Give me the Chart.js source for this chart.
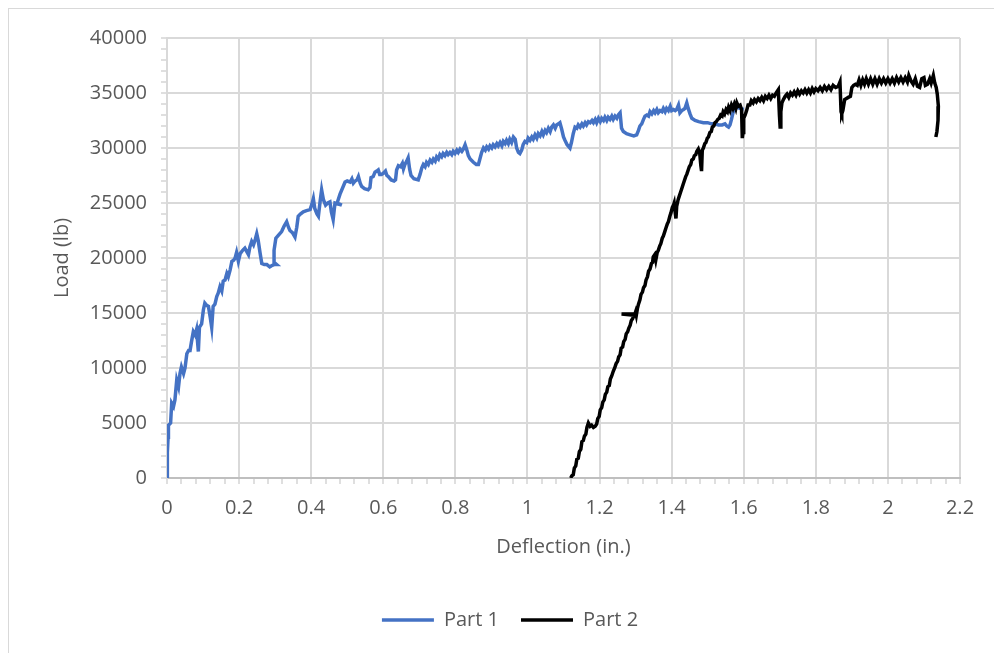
<!DOCTYPE html>
<html>
<head>
<meta charset="utf-8">
<script src="https://cdn.jsdelivr.net/npm/chart.js@4"></script>
<style>
  body { margin: 0; background: #fff; overflow: hidden; }
  #frame { position: absolute; left: 8px; top: 8px; width: 1100px; height: 800px; border: 1px solid #d9d9d9; }
  #myChart { position: absolute; left: 0; top: 0; }
</style>
</head>
<body>
<div id="frame"></div>
<canvas id="myChart" width="994" height="653"></canvas>
<script>
// Part 1: Deflection (in.) / Load (lb)
const part1X = [0, 0.002, 0.0, 0.003, 0.004, 0.01, 0.013, 0.018, 0.022, 0.027, 0.032, 0.036, 0.04, 0.046, 0.05, 0.055, 0.06, 0.064, 0.068, 0.073,
  0.078, 0.082, 0.087, 0.09, 0.096, 0.101, 0.105, 0.11, 0.115, 0.12, 0.124, 0.128, 0.133, 0.138, 0.142, 0.147, 0.152, 0.156, 0.161, 0.166,
  0.17, 0.175, 0.18, 0.185, 0.189, 0.193, 0.198, 0.203, 0.21, 0.216, 0.221, 0.226, 0.23, 0.235, 0.24, 0.245, 0.249, 0.253, 0.258, 0.263,
  0.27, 0.277, 0.285, 0.29, 0.297, 0.304, 0.297, 0.297, 0.302, 0.31, 0.318, 0.325, 0.332, 0.337, 0.341, 0.348, 0.355, 0.36, 0.364, 0.37,
  0.378, 0.387, 0.397, 0.402, 0.406, 0.41, 0.416, 0.42, 0.425, 0.429, 0.434, 0.44, 0.446, 0.452, 0.456, 0.461, 0.466, 0.475, 0.485, 0.472,
  0.48, 0.494, 0.5, 0.508, 0.513, 0.517, 0.522, 0.527, 0.531, 0.536, 0.54, 0.548, 0.558, 0.563, 0.566, 0.572, 0.577, 0.582, 0.586, 0.59,
  0.595, 0.6, 0.606, 0.61, 0.614, 0.622, 0.63, 0.634, 0.637, 0.642, 0.648, 0.653, 0.656, 0.66, 0.665, 0.669, 0.673, 0.677, 0.685, 0.697,
  0.702, 0.707, 0.711, 0.716, 0.72, 0.725, 0.73, 0.735, 0.739, 0.744, 0.748, 0.753, 0.757, 0.762, 0.766, 0.771, 0.776, 0.78, 0.785, 0.79,
  0.794, 0.799, 0.804, 0.808, 0.813, 0.818, 0.822, 0.827, 0.832, 0.836, 0.841, 0.85, 0.858, 0.864, 0.868, 0.873, 0.878, 0.883, 0.887, 0.892,
  0.896, 0.901, 0.905, 0.91, 0.915, 0.919, 0.924, 0.929, 0.933, 0.938, 0.942, 0.947, 0.951, 0.956, 0.961, 0.966, 0.97, 0.975, 0.979, 0.984,
  0.988, 0.993, 0.998, 1.002, 1.007, 1.012, 1.016, 1.021, 1.026, 1.03, 1.035, 1.04, 1.044, 1.049, 1.053, 1.058, 1.063, 1.067, 1.072, 1.077,
  1.081, 1.086, 1.09, 1.095, 1.1, 1.104, 1.11, 1.118, 1.122, 1.127, 1.132, 1.137, 1.141, 1.146, 1.151, 1.155, 1.16, 1.164, 1.169, 1.174,
  1.179, 1.183, 1.188, 1.192, 1.197, 1.202, 1.206, 1.211, 1.215, 1.22, 1.224, 1.229, 1.234, 1.238, 1.243, 1.248, 1.252, 1.257, 1.261, 1.266,
  1.275, 1.285, 1.295, 1.303, 1.308, 1.312, 1.317, 1.322, 1.326, 1.331, 1.336, 1.34, 1.345, 1.35, 1.354, 1.359, 1.363, 1.368, 1.373, 1.377,
  1.382, 1.386, 1.391, 1.396, 1.4, 1.405, 1.41, 1.414, 1.419, 1.423, 1.428, 1.433, 1.437, 1.442, 1.446, 1.451, 1.456, 1.465, 1.475, 1.488,
  1.5, 1.51, 1.52, 1.53, 1.54, 1.548, 1.553, 1.558, 1.562, 1.566, 1.571, 1.576, 1.58, 1.59, 1.6];
const part1Y = [0, 1600, 2300, 3700, 4800, 5000, 6800, 6500, 7100, 8900, 8300, 9500, 10100, 9500, 10000, 11300, 11600, 11600, 12400, 13300,
  13000, 13500, 11500, 13700, 14000, 15300, 15900, 15700, 15600, 14600, 13700, 15600, 15800, 16500, 16800, 17400, 17000, 17900, 18000, 18600,
  18300, 18900, 19700, 19800, 20000, 20500, 19700, 20400, 20700, 20900, 20600, 20300, 21000, 21500, 21200, 21700, 22200, 21600, 20500, 19500,
  19400, 19400, 19200, 19300, 19400, 19400, 19600, 20700, 21800, 22100, 22400, 22900, 23300, 22800, 22500, 22300, 21900, 22800, 23800, 24000,
  24200, 24300, 24400, 24900, 25400, 24500, 24000, 23800, 25200, 26200, 25300, 24800, 25000, 25100, 24200, 23500, 25000, 24900, 24800, 25000,
  25800, 26900, 27000, 26900, 27200, 26800, 27000, 27100, 27400, 26800, 26500, 26300, 26200, 26400, 27300, 27400, 27800, 27900, 28000, 27600,
  27600, 27700, 27900, 27500, 27400, 27100, 27000, 27100, 28000, 28400, 28300, 28600, 28100, 28500, 28800, 29100, 28100, 27500, 27200, 27100,
  27600, 28200, 28500, 28300, 28700, 28500, 28900, 28700, 29000, 28800, 29200, 29000, 29400, 29200, 29500, 29300, 29600, 29400, 29600, 29400,
  29700, 29500, 29800, 29600, 29900, 29700, 29900, 30300, 29800, 29300, 29000, 28700, 28500, 28500, 29000, 29600, 30000, 29800, 30100, 29900,
  30200, 30000, 30300, 30100, 30400, 30200, 30500, 30200, 30600, 30400, 30700, 30400, 30800, 30500, 31000, 30800, 30000, 29600, 29500, 29800,
  30300, 30600, 30500, 30900, 30700, 31000, 30800, 31200, 30900, 31300, 31100, 31500, 31200, 31600, 31400, 31800, 31500, 31900, 32100, 31800,
  32100, 32200, 32300, 31700, 31000, 30700, 30300, 30000, 30500, 31300, 31900, 31800, 32100, 31900, 32200, 32000, 32300, 32100, 32400, 32300,
  32500, 32300, 32600, 32300, 32700, 32400, 32700, 32500, 32800, 32500, 32800, 32600, 32900, 32600, 32900, 32700, 33000, 33200, 31800, 31500,
  31300, 31200, 31100, 31200, 31600, 32000, 32200, 32600, 32900, 33000, 32900, 33300, 33100, 33400, 33200, 33500, 33200, 33400, 33300, 33600,
  33300, 33600, 33400, 33800, 33400, 33500, 33400, 33500, 33900, 33200, 33400, 33500, 33600, 34100, 33600, 33100, 32700, 32500, 32400, 32300,
  32300, 32200, 32200, 32100, 32100, 32200, 32000, 31900, 32100, 32600, 33300, 33500, 33700, 33600, 33500];

// Part 2
const part2X = [1.12, 1.123, 1.127, 1.13, 1.134, 1.137, 1.141, 1.144, 1.148, 1.151, 1.155, 1.158, 1.162, 1.165, 1.169, 1.174, 1.178, 1.183, 1.188, 1.192,
  1.195, 1.199, 1.202, 1.206, 1.209, 1.213, 1.216, 1.22, 1.223, 1.227, 1.23, 1.234, 1.238, 1.242, 1.246, 1.25, 1.253, 1.257, 1.26, 1.264,
  1.267, 1.271, 1.274, 1.278, 1.281, 1.285, 1.288, 1.292, 1.296, 1.261, 1.298, 1.3, 1.302, 1.305, 1.308, 1.312, 1.315, 1.319, 1.322, 1.326,
  1.329, 1.333, 1.336, 1.34, 1.344, 1.347, 1.349, 1.353, 1.356, 1.36, 1.363, 1.367, 1.37, 1.374, 1.377, 1.381, 1.384, 1.388, 1.391, 1.395,
  1.398, 1.402, 1.405, 1.407, 1.41, 1.412, 1.414, 1.418, 1.421, 1.425, 1.428, 1.432, 1.435, 1.439, 1.442, 1.446, 1.449, 1.453, 1.456, 1.46,
  1.463, 1.467, 1.47, 1.474, 1.478, 1.481, 1.483, 1.485, 1.488, 1.492, 1.495, 1.499, 1.502, 1.506, 1.51, 1.513, 1.517, 1.52, 1.524, 1.528,
  1.532, 1.536, 1.54, 1.543, 1.547, 1.551, 1.555, 1.558, 1.562, 1.566, 1.57, 1.574, 1.578, 1.581, 1.585, 1.59, 1.594, 1.596, 1.598, 1.6,
  1.604, 1.608, 1.612, 1.617, 1.621, 1.626, 1.63, 1.635, 1.64, 1.645, 1.65, 1.655, 1.66, 1.665, 1.67, 1.675, 1.68, 1.685, 1.69, 1.696,
  1.699, 1.701, 1.703, 1.706, 1.71, 1.715, 1.72, 1.725, 1.73, 1.735, 1.74, 1.745, 1.75, 1.755, 1.76, 1.765, 1.77, 1.775, 1.78, 1.785,
  1.79, 1.795, 1.8, 1.806, 1.812, 1.818, 1.824, 1.83, 1.836, 1.842, 1.848, 1.855, 1.862, 1.867, 1.87, 1.872, 1.875, 1.88, 1.885, 1.89,
  1.896, 1.9, 1.905, 1.91, 1.915, 1.92, 1.925, 1.93, 1.935, 1.94, 1.946, 1.952, 1.958, 1.964, 1.97, 1.976, 1.982, 1.988, 1.994, 2.0,
  2.006, 2.012, 2.018, 2.024, 2.03, 2.036, 2.042, 2.048, 2.054, 2.058, 2.064, 2.07, 2.076, 2.082, 2.088, 2.094, 2.1, 2.104, 2.11, 2.116,
  2.12, 2.126, 2.13, 2.134, 2.137, 2.14, 2.139, 2.136, 2.133];
const part2Y = [0, 200, 300, 900, 1100, 1700, 1800, 2400, 2600, 3300, 3400, 3800, 4000, 4600, 5000, 4700, 4800, 4600, 4700, 4900,
  5400, 5600, 6200, 6400, 6900, 7100, 7600, 7800, 8300, 8400, 9000, 9300, 9700, 10000, 10400, 10600, 11000, 11200, 11800, 11900,
  12400, 12600, 13100, 13300, 13600, 13900, 14300, 14500, 14800, 14900, 14900, 15100, 14800, 15400, 15800, 16200, 16700, 16900, 17300, 17500,
  18000, 18300, 18800, 19000, 19500, 19600, 20100, 20300, 19800, 20500, 20700, 21100, 21300, 21800, 22000, 22400, 22700, 23100, 23300, 23800,
  24100, 24600, 24800, 25000, 24100, 23600, 24700, 25300, 25600, 26000, 26300, 26700, 27000, 27400, 27600, 28000, 28300, 28500, 28900, 29000,
  29300, 29400, 29700, 29900, 29500, 28400, 27900, 29800, 30000, 30400, 30500, 30900, 31000, 31400, 31500, 31900, 32000, 32300, 32400, 32600,
  32700, 33000, 32900, 33300, 33100, 33500, 33300, 33700, 33400, 33900, 33600, 34000, 33600, 34100, 33800, 33900, 33500, 30900, 31400, 32700,
  33000, 33400, 33900, 33900, 34300, 34100, 34400, 34200, 34500, 34300, 34600, 34300, 34700, 34500, 34800, 34500, 34800, 34700, 35000, 35300,
  33000, 31900, 33300, 34100, 34400, 34700, 34900, 34600, 35000, 34800, 35100, 34800, 35200, 34900, 35200, 35000, 35300, 35000, 35300, 35000,
  35400, 35100, 35400, 35200, 35500, 35200, 35600, 35300, 35600, 35300, 35700, 35500, 35600, 36000, 33300, 33100, 33400, 34400, 34500, 34600,
  34700, 35500, 35700, 35800, 35700, 36200, 35700, 36200, 35800, 36300, 35800, 36300, 35800, 36300, 35800, 36300, 35900, 36300, 35900, 36300,
  35900, 36300, 35900, 36400, 36000, 36400, 36000, 36400, 36000, 36600, 36100, 35800, 36300, 35600, 35500, 36300, 36400, 35700, 35800, 36300,
  35900, 36600, 35900, 35500, 34900, 33800, 32500, 31500, 31000];

const xMin = 0, xMax = 2.2, xMajor = 0.2, xMinor = 0.04;
const yMin = 0, yMax = 40000, yMajor = 5000, yMinor = 1000;

const textColor = '#595959';
const fontFamily = '"Open Sans", "Liberation Sans", sans-serif';
const fontSize = 20;

function isMajor(v, step) {
    const r = v / step;
    return Math.abs(r - Math.round(r)) < 1e-6;
}

function toPoints(xs, ys) {
    return xs.map((x, i) => ({ x: x, y: ys[i] }));
}

const ctx = document.getElementById('myChart').getContext('2d');
const myChart = new Chart(ctx, {
    type: 'scatter',
    data: {
        datasets: [
            {
                label: 'Part 1',
                data: toPoints(part1X, part1Y),
                borderColor: '#4472c4',
                backgroundColor: '#4472c4',
                borderWidth: 3.5,
                showLine: true,
                pointRadius: 0,
                tension: 0,
                order: 1
            },
            {
                label: 'Part 2',
                data: toPoints(part2X, part2Y),
                borderColor: '#000000',
                backgroundColor: '#000000',
                borderWidth: 3.5,
                showLine: true,
                pointRadius: 0,
                tension: 0,
                order: 0
            }
        ]
    },
    options: {
        responsive: false,
        animation: false,
        devicePixelRatio: 1,
        layout: { padding: { left: 60, top: 38, right: 34, bottom: 13 } },
        scales: {
            x: {
                type: 'linear',
                position: 'bottom',
                min: xMin,
                max: xMax,
                afterFit: s => { s.height = 110; },
                ticks: {
                    stepSize: xMinor,
                    autoSkip: false,
                    maxRotation: 0,
                    minRotation: 0,
                    padding: 12,
                    color: textColor,
                    font: { family: fontFamily, size: fontSize },
                    callback: v => isMajor(v, xMajor) ? String(+v.toFixed(1)) : ''
                },
                grid: {
                    color: c => isMajor(c.tick.value, xMajor) ? '#d9d9d9' : 'rgba(0,0,0,0)',
                    lineWidth: 2,
                    tickColor: '#bfbfbf',
                    tickLength: 6,
                    tickWidth: 1
                },
                border: { color: '#bfbfbf', width: 2 },
                title: {
                    display: true,
                    text: 'Deflection (in.)',
                    color: textColor,
                    font: { family: fontFamily, size: fontSize },
                    padding: { top: 0, bottom: 29 }
                }
            },
            y: {
                min: yMin,
                max: yMax,
                afterFit: s => { s.width = 107; },
                ticks: {
                    stepSize: yMinor,
                    autoSkip: false,
                    padding: 14,
                    color: textColor,
                    font: { family: fontFamily, size: fontSize },
                    callback: v => isMajor(v, yMajor) ? String(v) : ''
                },
                grid: {
                    color: c => isMajor(c.tick.value, yMajor) ? '#d9d9d9' : 'rgba(0,0,0,0)',
                    lineWidth: 2,
                    tickColor: '#bfbfbf',
                    tickLength: 6,
                    tickWidth: 1
                },
                border: { color: '#d9d9d9', width: 2 },
                title: {
                    display: true,
                    text: 'Load (lb)',
                    color: textColor,
                    font: { family: fontFamily, size: fontSize },
                    padding: { top: -10, bottom: 0 }
                }
            }
        },
        plugins: {
            tooltip: { enabled: false },
            legend: {
                display: true,
                position: 'bottom',
                labels: {
                    usePointStyle: true,
                    pointStyle: 'line',
                    pointStyleWidth: 52,
                    padding: 22,
                    color: textColor,
                    font: { family: fontFamily, size: fontSize },
                    sort: (a, b) => a.datasetIndex - b.datasetIndex
                }
            }
        }
    }
});
</script>
</body>
</html>
